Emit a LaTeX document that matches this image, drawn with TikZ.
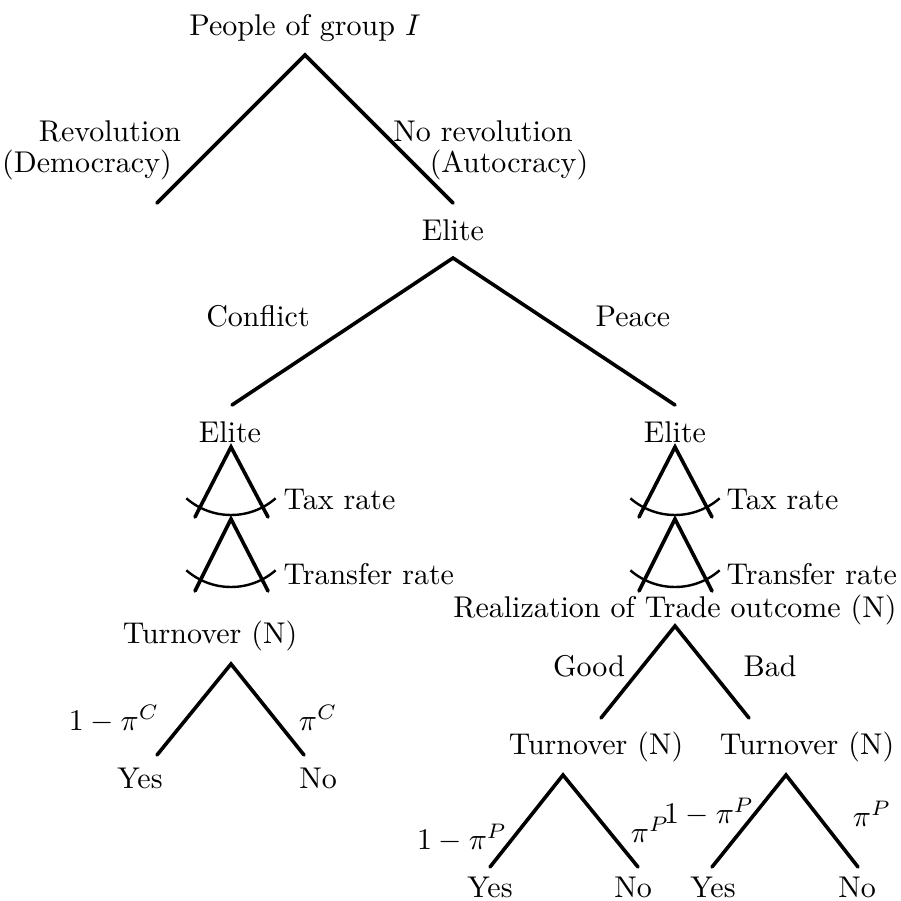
\documentclass[tikz,border=0pt]{standalone}
\begin{document}
\begin{tikzpicture}[x=0.3333pt,y=-0.3333pt,
  br/.style={line width=1.2pt, line cap=round},
  arcline/.style={line width=0.8pt},
  lbl/.style={inner sep=0pt, font=\normalsize}]
\useasboundingbox (0,0) rectangle (901,901);
% ---- top: People of group I
\node[lbl] (ppl) at (305,28) {People of group $I$};
\coordinate (a0) at (305,55);
\coordinate (l0) at (157,203);
\coordinate (r0) at (453,203);
\draw[br] (l0) -- (a0) -- (r0);
\node[lbl] (rev1) at (110,131) {Revolution};
\node[lbl] (rev2) at (87,165) {(Democracy)};
\node[lbl] (nrev1) at (483,131) {No revolution};
\node[lbl] (nrev2) at (509,165) {(Autocracy)};
% ---- Elite
\node[lbl] (elite0) at (453,230) {Elite};
\coordinate (a1) at (453,258);
\coordinate (l1) at (232,405);
\coordinate (r1) at (675,405);
\draw[br] (l1) -- (a1) -- (r1);
\node[lbl] (conf) at (258,316) {Conflict};
\node[lbl] (peace) at (633,316) {Peace};
\node[lbl] (eliteL) at (230,432) {Elite};
\node[lbl] (eliteR) at (675,432) {Elite};
% ---- tax / transfer triangles
\foreach \cx/\nm in {231/L,675/R}{
  \coordinate (t1\nm) at (\cx,447);
  \coordinate (t1l\nm) at (\cx-36,517);
  \coordinate (t1r\nm) at (\cx+37,517);
  \draw[br] (t1l\nm) -- (t1\nm) -- (t1r\nm);
  \draw[arcline] (t1\nm) ++(131:68) arc[start angle=131, end angle=49, radius=68];
  \coordinate (t2\nm) at (\cx,519);
  \coordinate (t2l\nm) at (\cx-36,591);
  \coordinate (t2r\nm) at (\cx+37,591);
  \draw[br] (t2l\nm) -- (t2\nm) -- (t2r\nm);
  \draw[arcline] (t2\nm) ++(131:68) arc[start angle=131, end angle=49, radius=68];
}
\node[lbl, anchor=west] (taxL) at (283,500) {Tax rate};
\node[lbl, anchor=west] (trL) at (283,574) {Transfer rate};
\node[lbl, anchor=west] (taxR) at (726,500) {Tax rate};
\node[lbl, anchor=west] (trR) at (726,574) {Transfer rate};
% ---- left bottom: turnover
\node[lbl] (turnC) at (210,636) {Turnover (N)};
\coordinate (a2) at (231,664);
\coordinate (l2) at (157,755);
\coordinate (r2) at (304,755);
\draw[br] (l2) -- (a2) -- (r2);
\node[lbl] (pc1) at (114,719) {$1-\pi^C$};
\node[lbl] (pc2) at (318,718) {$\pi^C$};
\node[lbl] (yesC) at (140,778) {Yes};
\node[lbl] (noC) at (318,778) {No};
% ---- right bottom: trade outcome
\node[lbl] (real) at (675,610) {Realization of Trade outcome (N)};
\coordinate (a3) at (675,626);
\coordinate (l3) at (601,718);
\coordinate (r3) at (749,718);
\draw[br] (l3) -- (a3) -- (r3);
\node[lbl] (good) at (589,666) {Good};
\node[lbl] (bad) at (770,666) {Bad};
\node[lbl] (turnG) at (596,747) {Turnover (N)};
\node[lbl] (turnB) at (807,747) {Turnover (N)};
\coordinate (a4) at (563,775);
\coordinate (l4) at (490,867);
\coordinate (r4) at (638,867);
\draw[br] (l4) -- (a4) -- (r4);
\coordinate (a5) at (786,775);
\coordinate (l5) at (712,867);
\coordinate (r5) at (858,867);
\draw[br] (l5) -- (a5) -- (r5);
\node[lbl] (pg1) at (462,838) {$1-\pi^P$};
\node[lbl] (pg2) at (650,830) {$\pi^P$};
\node[lbl] (pb1) at (709,812) {$1-\pi^P$};
\node[lbl] (pb2) at (872,814) {$\pi^P$};
\node[lbl] (yesG) at (490,887) {Yes};
\node[lbl] (noG) at (633,887) {No};
\node[lbl] (yesB) at (713,887) {Yes};
\node[lbl] (noB) at (857,887) {No};
\end{tikzpicture}
\end{document}
